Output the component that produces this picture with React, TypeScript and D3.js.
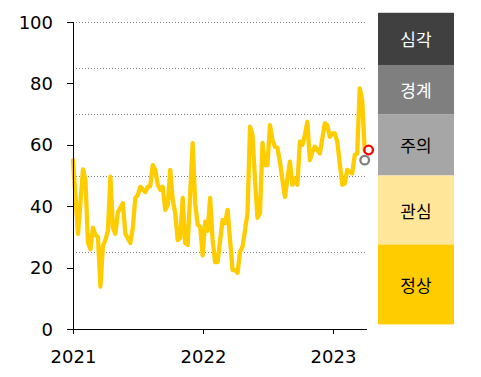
import React from "react";
import * as d3 from "d3";

// ---- data ----
const weekIndex = [
  0, 2, 4, 5, 6, 7, 8, 9, 10, 11, 12, 13, 14, 15, 16, 17, 18, 20, 21, 23,
  24, 25, 26, 27, 29, 30, 31, 32, 33, 34, 35, 36, 37, 38, 39, 40, 41, 42, 43, 44,
  45, 46, 48, 49, 50, 51, 52, 53, 54, 55, 56, 57, 58, 60, 61, 62, 63, 64, 65, 66,
  67, 68, 69, 70, 71, 72, 73, 74, 75, 76, 77, 78, 79, 80, 81, 82, 83, 84, 85, 86,
  87, 88, 89, 90, 91, 92, 93, 94, 95, 96, 97, 98, 99, 100, 101, 102, 103, 104, 105, 106,
  107, 108, 109, 110, 111, 112, 113, 114, 115, 116, 117,
];
const indexValues = [
  55, 31, 52, 48.5, 28, 26, 33, 30.6, 30, 13.8, 27, 29, 32, 49.6, 33, 31, 38, 41, 31, 28,
  33, 42.7, 43.6, 46.3, 44.6, 46.3, 46.6, 53.4, 51.8, 47, 45.3, 46.3, 38.8, 40.4, 51.8, 42, 37.8, 29, 29.6, 42.7,
  28, 27.4, 60.5, 41, 34, 33.3, 24, 35, 32, 42.7, 29, 21.8, 21.8, 35.5, 34.5, 38.8, 29, 19.2, 19.2, 18.3,
  25.2, 26.8, 32.2, 37.8, 65.9, 63.2, 48.5, 36.2, 37.8, 60.6, 53.4, 53.4, 66.4, 61.6, 59.4, 59, 54.5, 48.5, 43, 49,
  54.5, 47, 49, 47, 61, 60, 63.2, 67.5, 55, 57.7, 59.4, 58.3, 57.2, 62, 67, 66.4, 62.6, 63.7, 63.7, 61,
  54, 47, 47.4, 51.8, 51.2, 50.7, 56.7, 57.2, 78.4, 74.6, 58,
];
const startDate = "2021-01-01";
const yearTicks = ["2021-01-01", "2022-01-01", "2023-01-01"];
const yTicks = [0, 20, 40, 60, 80, 100];
const gridValues = [25, 50, 70, 85, 100];

const markerDates = ["2023-03-31", "2023-04-11"];
const markerValues = [55, 58.3];
const markerColors = ["#7f7f7f", "#ff0000"];

const levelNames = ["심각", "경계", "주의", "관심", "정상"];
const levelBounds = [103, 86, 70, 50, 27.5, 1.5];
const levelColors = ["#404040", "#7f7f7f", "#a6a6a6", "#ffe699", "#ffcc00"];
const levelTextColors = ["#ffffff", "#ffffff", "#000000", "#000000", "#000000"];

// ---- layout ----
const W = 481;
const H = 377;
const left = 73;
const right = 367;
const top = 22;
const bottom = 329;
const legendX0 = 378;
const legendX1 = 454;

export default function App() {
  const parse = d3.timeParse("%Y-%m-%d");
  const start = parse(startDate) as Date;
  const dates = weekIndex.map((w) => d3.timeDay.offset(start, w * 7));
  const x = d3
    .scaleTime()
    .domain([parse(yearTicks[0]) as Date, parse(yearTicks[2]) as Date])
    .range([73, 333]);
  const y = d3.scaleLinear().domain([0, 100]).range([bottom, top]);

  const line = d3
    .line<number>()
    .x((_, i) => x(dates[i]))
    .y((d) => y(d))
    .curve(d3.curveLinear);

  const numFont = "'DejaVu Sans', Verdana, sans-serif";
  const krFont = "'Noto Sans CJK KR', 'Noto Sans', sans-serif";

  return (
    <svg
      width={W}
      height={H}
      style={{ position: "absolute", left: 0, top: 0, background: "#fff" }}
    >
      {/* gridlines */}
      {gridValues.map((g) => (
        <line
          key={g}
          x1={left}
          x2={right - 1}
          y1={Math.round(y(g)) + 0.5}
          y2={Math.round(y(g)) + 0.5}
          stroke="#7f7f7f"
          strokeWidth={1}
          strokeDasharray="1,2"
        />
      ))}

      {/* legend bands */}
      {levelNames.map((n, i) => {
        const y0 = y(levelBounds[i]);
        const y1 = y(levelBounds[i + 1]);
        return (
          <g key={n}>
            <rect
              x={legendX0}
              y={y0}
              width={legendX1 - legendX0}
              height={y1 - y0}
              fill={levelColors[i]}
            />
            <text
              x={(legendX0 + legendX1) / 2}
              y={(y0 + y1) / 2}
              textAnchor="middle"
              dominantBaseline="central"
              fontFamily={krFont}
              fontSize={17}
              fill={levelTextColors[i]}
            >
              {n}
            </text>
          </g>
        );
      })}

      {/* series line */}
      <path
        d={line(indexValues) || ""}
        fill="none"
        stroke="#ffcc00"
        strokeWidth={4.3}
        strokeLinejoin="round"
        strokeLinecap="round"
      />

      {/* end markers */}
      {markerDates.map((d, i) => (
        <circle
          key={d}
          cx={x(parse(d) as Date)}
          cy={y(markerValues[i])}
          r={4.3}
          fill="#ffffff"
          stroke={markerColors[i]}
          strokeWidth={2.3}
        />
      ))}

      {/* y axis */}
      <line x1={left + 0.5} x2={left + 0.5} y1={top} y2={bottom + 5} stroke="#000" />
      {yTicks.map((t) => (
        <g key={t}>
          <line
            x1={left - 6}
            x2={left}
            y1={Math.round(y(t)) + 0.5}
            y2={Math.round(y(t)) + 0.5}
            stroke="#000"
          />
          <text
            x={53}
            y={y(t)}
            textAnchor="end"
            dominantBaseline="central"
            fontFamily={numFont}
            fontSize={18}
            fill="#000"
          >
            {t}
          </text>
        </g>
      ))}

      {/* x axis */}
      <line x1={left} x2={right} y1={bottom + 0.5} y2={bottom + 0.5} stroke="#000" />
      {yearTicks.map((t) => {
        const px = Math.round(x(parse(t) as Date)) + 0.5;
        return (
          <g key={t}>
            <line x1={px} x2={px} y1={bottom} y2={bottom + 5} stroke="#000" />
            <text
              x={px}
              y={363}
              textAnchor="middle"
              fontFamily={numFont}
              fontSize={18}
              fill="#000"
            >
              {t.slice(0, 4)}
            </text>
          </g>
        );
      })}
    </svg>
  );
}
